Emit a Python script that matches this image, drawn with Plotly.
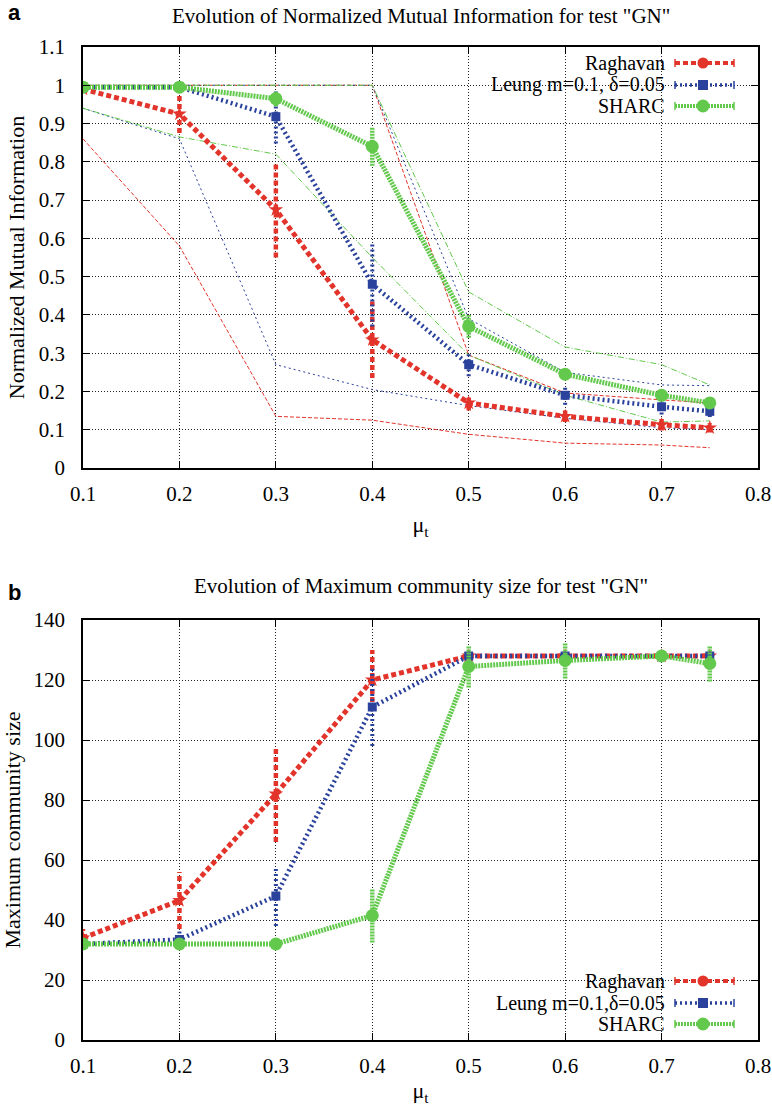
import plotly.graph_objects as go
from plotly.subplots import make_subplots

# ---------------- data ----------------
mu = [0.1, 0.2, 0.3, 0.4, 0.5, 0.6, 0.7, 0.75]
x_ticks = [0.1, 0.2, 0.3, 0.4, 0.5, 0.6, 0.7, 0.8]
x_tick_text = ["0.1", "0.2", "0.3", "0.4", "0.5", "0.6", "0.7", "0.8"]

series_names_a = ["Raghavan", "Leung m=0.1, \u03b4=0.05", "SHARC"]
series_names_b = ["Raghavan", "Leung m=0.1,\u03b4=0.05", "SHARC"]

# panel a: NMI
nmi_raghavan = [0.99, 0.925, 0.675, 0.335, 0.17, 0.135, 0.113, 0.105]
nmi_raghavan_err = [0.01, 0.05, 0.125, 0.10, 0.02, 0.015, 0.015, 0.012]
nmi_leung = [0.995, 0.995, 0.918, 0.48, 0.27, 0.19, 0.16, 0.148]
nmi_leung_err = [0.005, 0.01, 0.07, 0.11, 0.03, 0.025, 0.02, 0.015]
nmi_sharc = [0.995, 0.995, 0.965, 0.84, 0.37, 0.245, 0.19, 0.17]
nmi_sharc_err = [0.005, 0.005, 0.02, 0.05, 0.03, 0.01, 0.01, 0.01]

nmi_raghavan_max = [1.0, 1.0, 1.0, 1.0, 0.295, 0.196, 0.178, 0.17]
nmi_raghavan_min = [0.86, 0.58, 0.135, 0.125, 0.088, 0.065, 0.06, 0.053]
nmi_leung_max = [1.0, 1.0, 1.0, 1.0, 0.39, 0.25, 0.217, 0.215]
nmi_leung_min = [0.94, 0.86, 0.27, 0.205, 0.163, 0.13, 0.105, 0.1]
nmi_sharc_max = [1.0, 1.0, 1.0, 1.0, 0.46, 0.316, 0.27, 0.217]
nmi_sharc_min = [0.94, 0.865, 0.82, 0.55, 0.295, 0.19, 0.12, 0.123]

# panel b: maximum community size
mcs_raghavan = [34, 46.5, 82, 120, 128, 128, 128, 128]
mcs_raghavan_err = [3, 9.5, 16, 10, 0.5, 0.5, 0.5, 0.5]
mcs_leung = [32, 33.5, 48, 111, 128, 128, 128, 128]
mcs_leung_err = [0.5, 3, 10, 13, 0.5, 0.5, 0.5, 0.5]
mcs_sharc = [32, 32, 32, 41.5, 124.5, 126.5, 128, 125.5]
mcs_sharc_err = [0.5, 0.5, 0.5, 9, 7, 6, 0.5, 6]

# ---------------- styles ----------------
RED = "#e3342b"
BLUE = "#2b429c"
GREEN = "#62c94c"
SERIF = "Liberation Serif"

styles = [
    dict(color=RED, dash="5px,3px", width=5, symbol="star", size=11),
    dict(color=BLUE, dash="2px,3px", width=4.5, symbol="square", size=9),
    dict(color=GREEN, dash="2px,1px", width=5, symbol="circle", size=13),
]

fig = make_subplots(rows=2, cols=1, vertical_spacing=0.0)

# layout in page pixels (body margin removed by post_script)
W, H = 772, 1106
PL, PR = 83, 758          # plot left / right (page px)
TOP_A, BOT_A = 47, 468
TOP_B, BOT_B = 620, 1040
L = PL
R = W - PR
T = TOP_A
B = H - BOT_B
plot_w = W - L - R
plot_h = H - T - B


def px(x):
    return (x - L) / plot_w


def py(y):
    return (H - B - y) / plot_h


def err_segments(xs, ys, es):
    xx, yy = [], []
    for x, y, e in zip(xs, ys, es):
        xx += [x, x, None]
        yy += [y - e, y + e, None]
    return xx, yy


def add_series(row, ys, es, st, name):
    ex, ey = err_segments(mu, ys, es)
    fig.add_trace(go.Scatter(x=ex, y=ey, mode="lines", showlegend=False,
                             line=dict(color=st["color"], dash=st["dash"], width=st["width"] - 0.5),
                             hoverinfo="skip"), row=row, col=1)
    fig.add_trace(go.Scatter(x=mu, y=ys, mode="lines+markers", name=name, showlegend=False,
                             line=dict(color=st["color"], dash=st["dash"], width=st["width"]),
                             marker=dict(symbol=st["symbol"], size=st["size"], color=st["color"])),
                  row=row, col=1)


# thin envelopes (panel a)
thin = [
    (nmi_raghavan_max, nmi_raghavan_min, RED, "4px,2px"),
    (nmi_leung_max, nmi_leung_min, BLUE, "2px,3px"),
    (nmi_sharc_max, nmi_sharc_min, GREEN, "6px,2px,1px,2px"),
]
for mx, mn, c, d in thin:
    for arr in (mx, mn):
        fig.add_trace(go.Scatter(x=mu, y=arr, mode="lines", showlegend=False,
                                 line=dict(color=c, dash=d, width=1)), row=1, col=1)

for ys, es, st, nm in [(nmi_raghavan, nmi_raghavan_err, styles[0], series_names_a[0]),
                       (nmi_leung, nmi_leung_err, styles[1], series_names_a[1]),
                       (nmi_sharc, nmi_sharc_err, styles[2], series_names_a[2])]:
    add_series(1, ys, es, st, nm)

for ys, es, st, nm in [(mcs_raghavan, mcs_raghavan_err, styles[0], series_names_b[0]),
                       (mcs_leung, mcs_leung_err, styles[1], series_names_b[1]),
                       (mcs_sharc, mcs_sharc_err, styles[2], series_names_b[2])]:
    add_series(2, ys, es, st, nm)

axis_common = dict(
    showgrid=True, gridcolor="#222222", griddash="1px,2px", gridwidth=1,
    showline=True, linecolor="black", linewidth=1.5, mirror="ticks",
    ticks="inside", ticklen=7, tickcolor="black", tickwidth=1,
    tickfont=dict(family=SERIF, size=21, color="black"), zeroline=False,
    automargin=False,
)

for r in (1, 2):
    fig.update_xaxes(range=[0.1, 0.8], tickvals=x_ticks, ticktext=x_tick_text,
                     ticklabelstandoff=6,
                     title=dict(text="\u03bc<sub>t</sub>", font=dict(family=SERIF, size=22, color="black"),
                                standoff=12),
                     **axis_common, row=r, col=1)

fig.update_yaxes(range=[0, 1.1], dtick=0.1, tick0=0, ticklabelstandoff=12,
                 title=dict(text="Normalized Mutual Information",
                            font=dict(family=SERIF, size=22, color="black"), standoff=8),
                 **axis_common, row=1, col=1)
fig.update_yaxes(range=[0, 140], dtick=20, tick0=0, ticklabelstandoff=12,
                 title=dict(text="Maximum community size",
                            font=dict(family=SERIF, size=22, color="black"), standoff=8),
                 **axis_common, row=2, col=1)

fig.update_layout(
    yaxis=dict(domain=[py(BOT_A), 1.0]),
    yaxis2=dict(domain=[0.0, py(TOP_B)]),
)

shapes = []
annotations = []


def legend_block(rows_y, names, box):
    x0, y0, x1, y1 = box
    shapes.append(dict(type="rect", xref="paper", yref="paper", layer="between",
                       x0=px(x0), x1=px(x1), y0=py(y1), y1=py(y0),
                       fillcolor="white", line=dict(width=0)))
    for yy, nm, st in zip(rows_y, names, styles):
        annotations.append(dict(xref="paper", yref="paper", x=px(667), y=py(yy),
                                xanchor="right", yanchor="middle", showarrow=False,
                                text=nm, font=dict(family=SERIF, size=20, color="black")))
        shapes.append(dict(type="line", xref="paper", yref="paper",
                           x0=px(675), x1=px(734), y0=py(yy), y1=py(yy),
                           line=dict(color=st["color"], dash=st["dash"], width=st["width"] - 1)))
        for xc in (675, 734):
            shapes.append(dict(type="line", xref="paper", yref="paper",
                               x0=px(xc), x1=px(xc), y0=py(yy - 4), y1=py(yy + 4),
                               line=dict(color=st["color"], width=1.5)))
        r = st["size"] / 2
        if st["symbol"] == "square":
            shapes.append(dict(type="rect", xref="paper", yref="paper",
                               x0=px(703 - 5), x1=px(703 + 5), y0=py(yy + 5), y1=py(yy - 5),
                               fillcolor=st["color"], line=dict(width=0)))
        else:
            shapes.append(dict(type="circle", xref="paper", yref="paper",
                               x0=px(703 - r), x1=px(703 + r), y0=py(yy + r), y1=py(yy - r),
                               fillcolor=st["color"], line=dict(width=0)))


legend_block([63, 85, 106], series_names_a, (432, 49, 746, 116))
legend_block([981, 1003, 1024], series_names_b, (432, 972, 746, 1039))

annotations += [
    dict(xref="paper", yref="paper", x=0.5, y=py(16), xanchor="center", yanchor="middle",
         showarrow=False, text='Evolution of Normalized Mutual Information for test "GN"',
         font=dict(family=SERIF, size=21, color="black")),
    dict(xref="paper", yref="paper", x=0.5, y=py(586), xanchor="center", yanchor="middle",
         showarrow=False, text='Evolution of Maximum community size for test "GN"',
         font=dict(family=SERIF, size=21, color="black")),
    dict(xref="paper", yref="paper", x=px(6), y=py(13), xanchor="left", yanchor="middle",
         showarrow=False, text="<b>a</b>", font=dict(family="Liberation Sans", size=22, color="black")),
    dict(xref="paper", yref="paper", x=px(6), y=py(592), xanchor="left", yanchor="middle",
         showarrow=False, text="<b>b</b>", font=dict(family="Liberation Sans", size=22, color="black")),
]

fig.update_layout(
    width=W, height=H,
    margin=dict(l=L, r=R, t=T, b=B),
    paper_bgcolor="white", plot_bgcolor="white",
    showlegend=False, hovermode=False,
    shapes=shapes, annotations=annotations,
    font=dict(family=SERIF, color="black"),
)

fig.write_html("out.html", config={"displayModeBar": False},
               post_script="document.body.style.margin='0px';")
